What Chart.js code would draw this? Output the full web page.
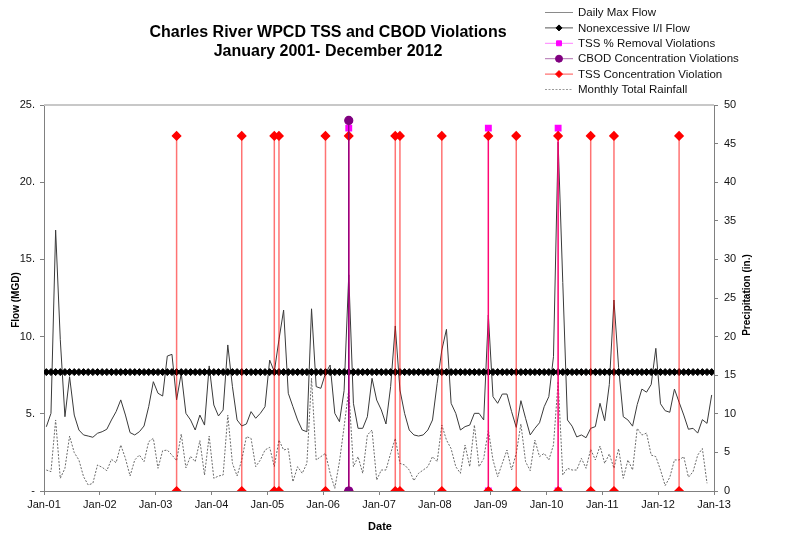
<!DOCTYPE html>
<html lang="en">
  <head>
    <meta charset="UTF-8" />
    <title>Charles River WPCD TSS and CBOD Violations</title>
    <script src="https://cdn.jsdelivr.net/npm/chart.js@4/dist/chart.umd.min.js"></script>
    <style>
      body {
        margin: 0;
        background: #ffffff;
      }
      .wrap {
        position: relative;
        width: 787px;
        height: 542px;
      }
    </style>
  </head>
  <body>
    <div class="wrap"><canvas id="chart"></canvas></div>
    <script>
      const titleLines = [
        "Charles River WPCD TSS and CBOD Violations",
        "January 2001- December 2012",
      ];
      const yearLabels = [
        "Jan-01", "Jan-02", "Jan-03", "Jan-04", "Jan-05", "Jan-06", "Jan-07",
        "Jan-08", "Jan-09", "Jan-10", "Jan-11", "Jan-12", "Jan-13",
      ];
      const startYear = 2001;

      // monthly values, Jan 2001 .. Dec 2012 (MGD)
      const dailyMaxFlow = [
        4.16, 5.03, 16.9, 9.8, 4.81, 7.4, 4.92, 3.95, 3.63, 3.56, 3.48, 3.74,
        3.84, 4.0, 4.6, 5.14, 5.9, 4.92, 3.78, 3.63, 3.84, 4.21, 5.46, 7.08,
        6.33, 6.15, 8.74, 8.85, 5.9, 7.62, 5.03, 4.6, 3.95, 4.92, 4.27, 8.1,
        5.57, 4.86, 5.25, 9.46, 6.76, 4.6, 4.21, 4.34, 5.14, 4.71, 5.03, 5.46,
        8.48, 7.73, 9.8, 11.72, 6.33, 5.46, 4.6, 3.95, 3.84, 11.8, 6.76, 6.65,
        7.62, 8.16, 5.03, 4.49, 6.5, 14.0, 5.68, 4.06, 4.06, 4.81, 7.3, 5.89,
        5.25, 4.34, 6.76, 10.69, 6.54, 5.03, 3.95, 3.63, 3.56, 3.63, 3.95, 4.6,
        6.97, 9.13, 10.47, 5.68, 5.03, 3.95, 4.17, 4.27, 5.03, 5.03, 4.6, 11.4,
        6.11, 5.68, 6.28, 6.28, 5.14, 4.12, 5.85, 4.71, 3.63, 4.06, 4.42, 5.46,
        6.11, 8.7, 22.6, 13.5, 4.6, 4.2, 3.5, 3.63, 3.45, 4.06, 4.17, 5.68,
        4.55, 6.9, 12.37, 8.0, 4.81, 4.6, 4.2, 5.6, 6.6, 6.4, 6.9, 9.24,
        5.65, 5.2, 5.1, 6.6, 5.75, 4.92, 4.0, 4.06, 3.75, 4.62, 4.38, 6.22,
      ];

      // monthly totals (in.), last month not reported
      const monthlyRainfall = [
        2.72, 2.5, 9.2, 1.64, 2.94, 7.12, 4.97, 4.02, 1.86, 0.78, 1.0, 3.37,
        3.07, 2.63, 4.1, 3.67, 5.96, 4.23, 1.94, 4.02, 4.66, 3.8, 6.39, 6.82,
        2.94, 5.22, 5.3, 4.66, 3.93, 7.38, 3.0, 4.5, 3.8, 6.52, 2.07, 7.12,
        1.64, 1.94, 2.07, 9.84, 3.58, 1.94, 4.02, 7.04, 6.82, 3.15, 4.02, 5.31,
        5.66, 3.15, 6.6, 5.31, 5.48, 1.2, 3.15, 2.29, 3.58, 14.6, 4.02, 4.45,
        4.88, 2.29, 0.35, 3.8, 8.33, 13.1, 3.15, 4.45, 2.29, 7.25, 7.9, 1.42,
        2.72, 2.72, 4.88, 6.82, 3.58, 3.37, 2.72, 1.34, 2.29, 2.72, 3.15, 4.45,
        3.8, 8.55, 6.6, 5.48, 3.15, 2.29, 5.96, 3.15, 8.55, 3.15, 4.2, 7.9,
        4.02, 1.86, 3.58, 5.31, 2.72, 4.88, 8.68, 3.8, 2.63, 6.6, 4.45, 4.88,
        4.02, 5.96, 14.2, 2.07, 2.94, 2.72, 2.72, 4.23, 2.94, 5.4, 4.02, 5.83,
        3.58, 4.8, 2.94, 5.48, 1.64, 4.02, 2.72, 8.12, 7.25, 7.5, 4.66, 4.45,
        2.72, 0.7, 1.78, 4.02, 4.02, 4.45, 1.78, 2.5, 4.66, 5.5, 1.0, null,
      ];

      const nonexcessiveFlow = 7.7;

      const tssConcViolations = [
        "2003-05", "2004-07", "2005-02", "2005-03", "2006-01", "2006-06",
        "2007-04", "2007-05", "2008-02", "2008-12", "2009-06", "2010-03",
        "2010-10", "2011-03", "2012-05",
      ];
      const tssRemovalViolations = ["2006-06", "2008-12", "2010-03"];
      const cbodViolations = ["2006-06"];

      const tssConcLevel = 23;
      const tssRemovalLevel = 23.5;
      const cbodLevel = 24;

      // points sit mid-month on the date axis
      function monthPos(i) {
        return i + 0.5;
      }
      function monthIndex(s) {
        const [y, m] = s.split("-").map(Number);
        return (y - startYear) * 12 + m - 1;
      }
      function dropLines(list, level) {
        const pts = [];
        list.forEach((s) => {
          const x = monthPos(monthIndex(s));
          pts.push({ x: x, y: 0 }, { x: x, y: level }, { x: x, y: null });
        });
        return pts;
      }

      const flowPts = dailyMaxFlow.map((v, i) => ({ x: monthPos(i), y: v }));
      const rainPts = monthlyRainfall.map((v, i) => ({ x: monthPos(i), y: v }));
      const iiPts = dailyMaxFlow.map((v, i) => ({ x: monthPos(i), y: nonexcessiveFlow }));

      const font = '"Liberation Sans", Arial, sans-serif';
      Chart.defaults.font.family = font;
      Chart.defaults.color = "#000";

      const textPlugin = {
        id: "texts",
        beforeDatasetsDraw(chart) {
          const { ctx, chartArea: a } = chart;
          ctx.save();
          ctx.strokeStyle = "#c8c8c8";
          ctx.lineWidth = 2;
          ctx.beginPath();
          ctx.moveTo(a.left, a.top);
          ctx.lineTo(a.right, a.top);
          ctx.stroke();
          ctx.restore();
        },
        afterDraw(chart) {
          const ctx = chart.ctx;
          ctx.save();
          ctx.fillStyle = "#000";
          ctx.textAlign = "center";
          ctx.textBaseline = "middle";

          ctx.font = "bold 16px " + font;
          titleLines.forEach((t, k) => ctx.fillText(t, 328, 33 + k * 19));

          ctx.font = "bold 11px " + font;
          ctx.fillText("Date", 380, 527);

          ctx.font = "bold 10px " + font;
          ctx.save();
          ctx.translate(16, 300);
          ctx.rotate(-Math.PI / 2);
          ctx.fillText("Flow (MGD)", 0, 0);
          ctx.restore();
          ctx.save();
          ctx.translate(747, 295);
          ctx.rotate(-Math.PI / 2);
          ctx.fillText("Precipitation (in.)", 0, 0);
          ctx.restore();

          // legend, one row per dataset
          ctx.textAlign = "left";
          ctx.font = "11.5px " + font;
          chart.data.datasets.forEach((ds, k) => {
            const y = 12.5 + k * 15.4;
            ctx.save();
            ctx.strokeStyle = ds.legendLine || ds.borderColor;
            ctx.lineWidth = 1;
            ctx.setLineDash(ds.borderDash || []);
            ctx.beginPath();
            ctx.moveTo(545, y);
            ctx.lineTo(573, y);
            ctx.stroke();
            ctx.restore();
            if (ds.pointRadius > 0) {
              ctx.save();
              ctx.fillStyle = ds.pointBackgroundColor;
              ctx.strokeStyle = ds.pointBackgroundColor;
              Chart.helpers.drawPoint(
                ctx,
                { pointStyle: ds.pointStyle, radius: ds.pointRadius - 0.5, rotation: 0, borderWidth: 1 },
                559,
                y
              );
              ctx.restore();
            }
            ctx.fillStyle = "#111";
            ctx.fillText(ds.label, 578, y + 0.5);
          });
          ctx.restore();
        },
      };

      const ctx = document.getElementById("chart").getContext("2d");
      new Chart(ctx, {
        type: "line",
        data: {
          datasets: [
            {
              label: "Daily Max Flow",
              data: flowPts,
              yAxisID: "y",
              borderColor: "#3a3a3a",
              legendLine: "#8a8a8a",
              borderWidth: 1,
              pointRadius: 0,
              order: 4,
            },
            {
              label: "Nonexcessive I/I Flow",
              data: iiPts,
              yAxisID: "y",
              borderColor: "#000",
              legendLine: "#555",
              borderWidth: 1,
              pointStyle: "rectRot",
              pointRadius: 3.5,
              pointBackgroundColor: "#000",
              pointBorderColor: "#000",
              pointBorderWidth: 1,
              order: 3,
            },
            {
              label: "TSS % Removal Violations",
              data: dropLines(tssRemovalViolations, tssRemovalLevel),
              yAxisID: "y",
              borderColor: "#ff00ff",
              legendLine: "#ff80ff",
              borderWidth: 1.2,
              pointStyle: "rect",
              pointRadius: 4,
              pointBackgroundColor: "#ff00ff",
              pointBorderColor: "#ff00ff",
              order: 2,
            },
            {
              label: "CBOD Concentration Violations",
              data: dropLines(cbodViolations, cbodLevel),
              yAxisID: "y",
              borderColor: "#800080",
              legendLine: "#b070b0",
              borderWidth: 1.2,
              pointStyle: "circle",
              pointRadius: 4,
              pointBackgroundColor: "#800080",
              pointBorderColor: "#800080",
              order: 0,
            },
            {
              label: "TSS Concentration Violation",
              data: dropLines(tssConcViolations, tssConcLevel),
              yAxisID: "y",
              borderColor: "rgba(255,0,0,0.55)",
              legendLine: "#ff5050",
              borderWidth: 1.5,
              pointStyle: "rectRot",
              pointRadius: 4,
              pointBackgroundColor: "#ff0000",
              pointBorderColor: "#ff0000",
              order: 1,
            },
            {
              label: "Monthly Total Rainfall",
              data: rainPts,
              yAxisID: "y1",
              borderColor: "#6a6a6a",
              legendLine: "#9a9a9a",
              borderDash: [2, 1.5],
              borderWidth: 1,
              pointRadius: 0,
              order: 5,
            },
          ],
        },
        options: {
          responsive: true,
          maintainAspectRatio: false,
          animation: false,
          layout: { padding: { top: 105, left: 0, right: 0, bottom: 0 } },
          plugins: {
            legend: { display: false },
            title: { display: false },
            tooltip: { enabled: false },
          },
          scales: {
            x: {
              type: "linear",
              min: 0,
              max: 144,
              afterFit: (s) => {
                s.height = 51;
              },
              ticks: {
                stepSize: 12,
                autoSkip: false,
                maxRotation: 0,
                padding: 3,
                font: { size: 11 },
                color: "#111",
                callback: (v) => yearLabels[v / 12],
              },
              grid: { drawOnChartArea: false, tickLength: 4, color: "#808080" },
              border: { color: "#808080" },
            },
            y: {
              position: "left",
              min: 0,
              max: 25,
              afterFit: (s) => {
                s.width = 44;
              },
              ticks: {
                stepSize: 5,
                padding: 5,
                font: { size: 11 },
                color: "#111",
                callback: (v) => (v === 0 ? "-" : v + "."),
              },
              grid: { drawOnChartArea: false, tickLength: 4, color: "#808080" },
              border: { color: "#808080" },
            },
            y1: {
              position: "right",
              min: 0,
              max: 50,
              afterFit: (s) => {
                s.width = 73;
              },
              ticks: {
                stepSize: 5,
                padding: 6,
                font: { size: 11 },
                color: "#111",
              },
              grid: { drawOnChartArea: false, tickLength: 4, color: "#808080" },
              border: { color: "#808080" },
            },
          },
        },
        plugins: [textPlugin],
      });
    </script>
  </body>
</html>
